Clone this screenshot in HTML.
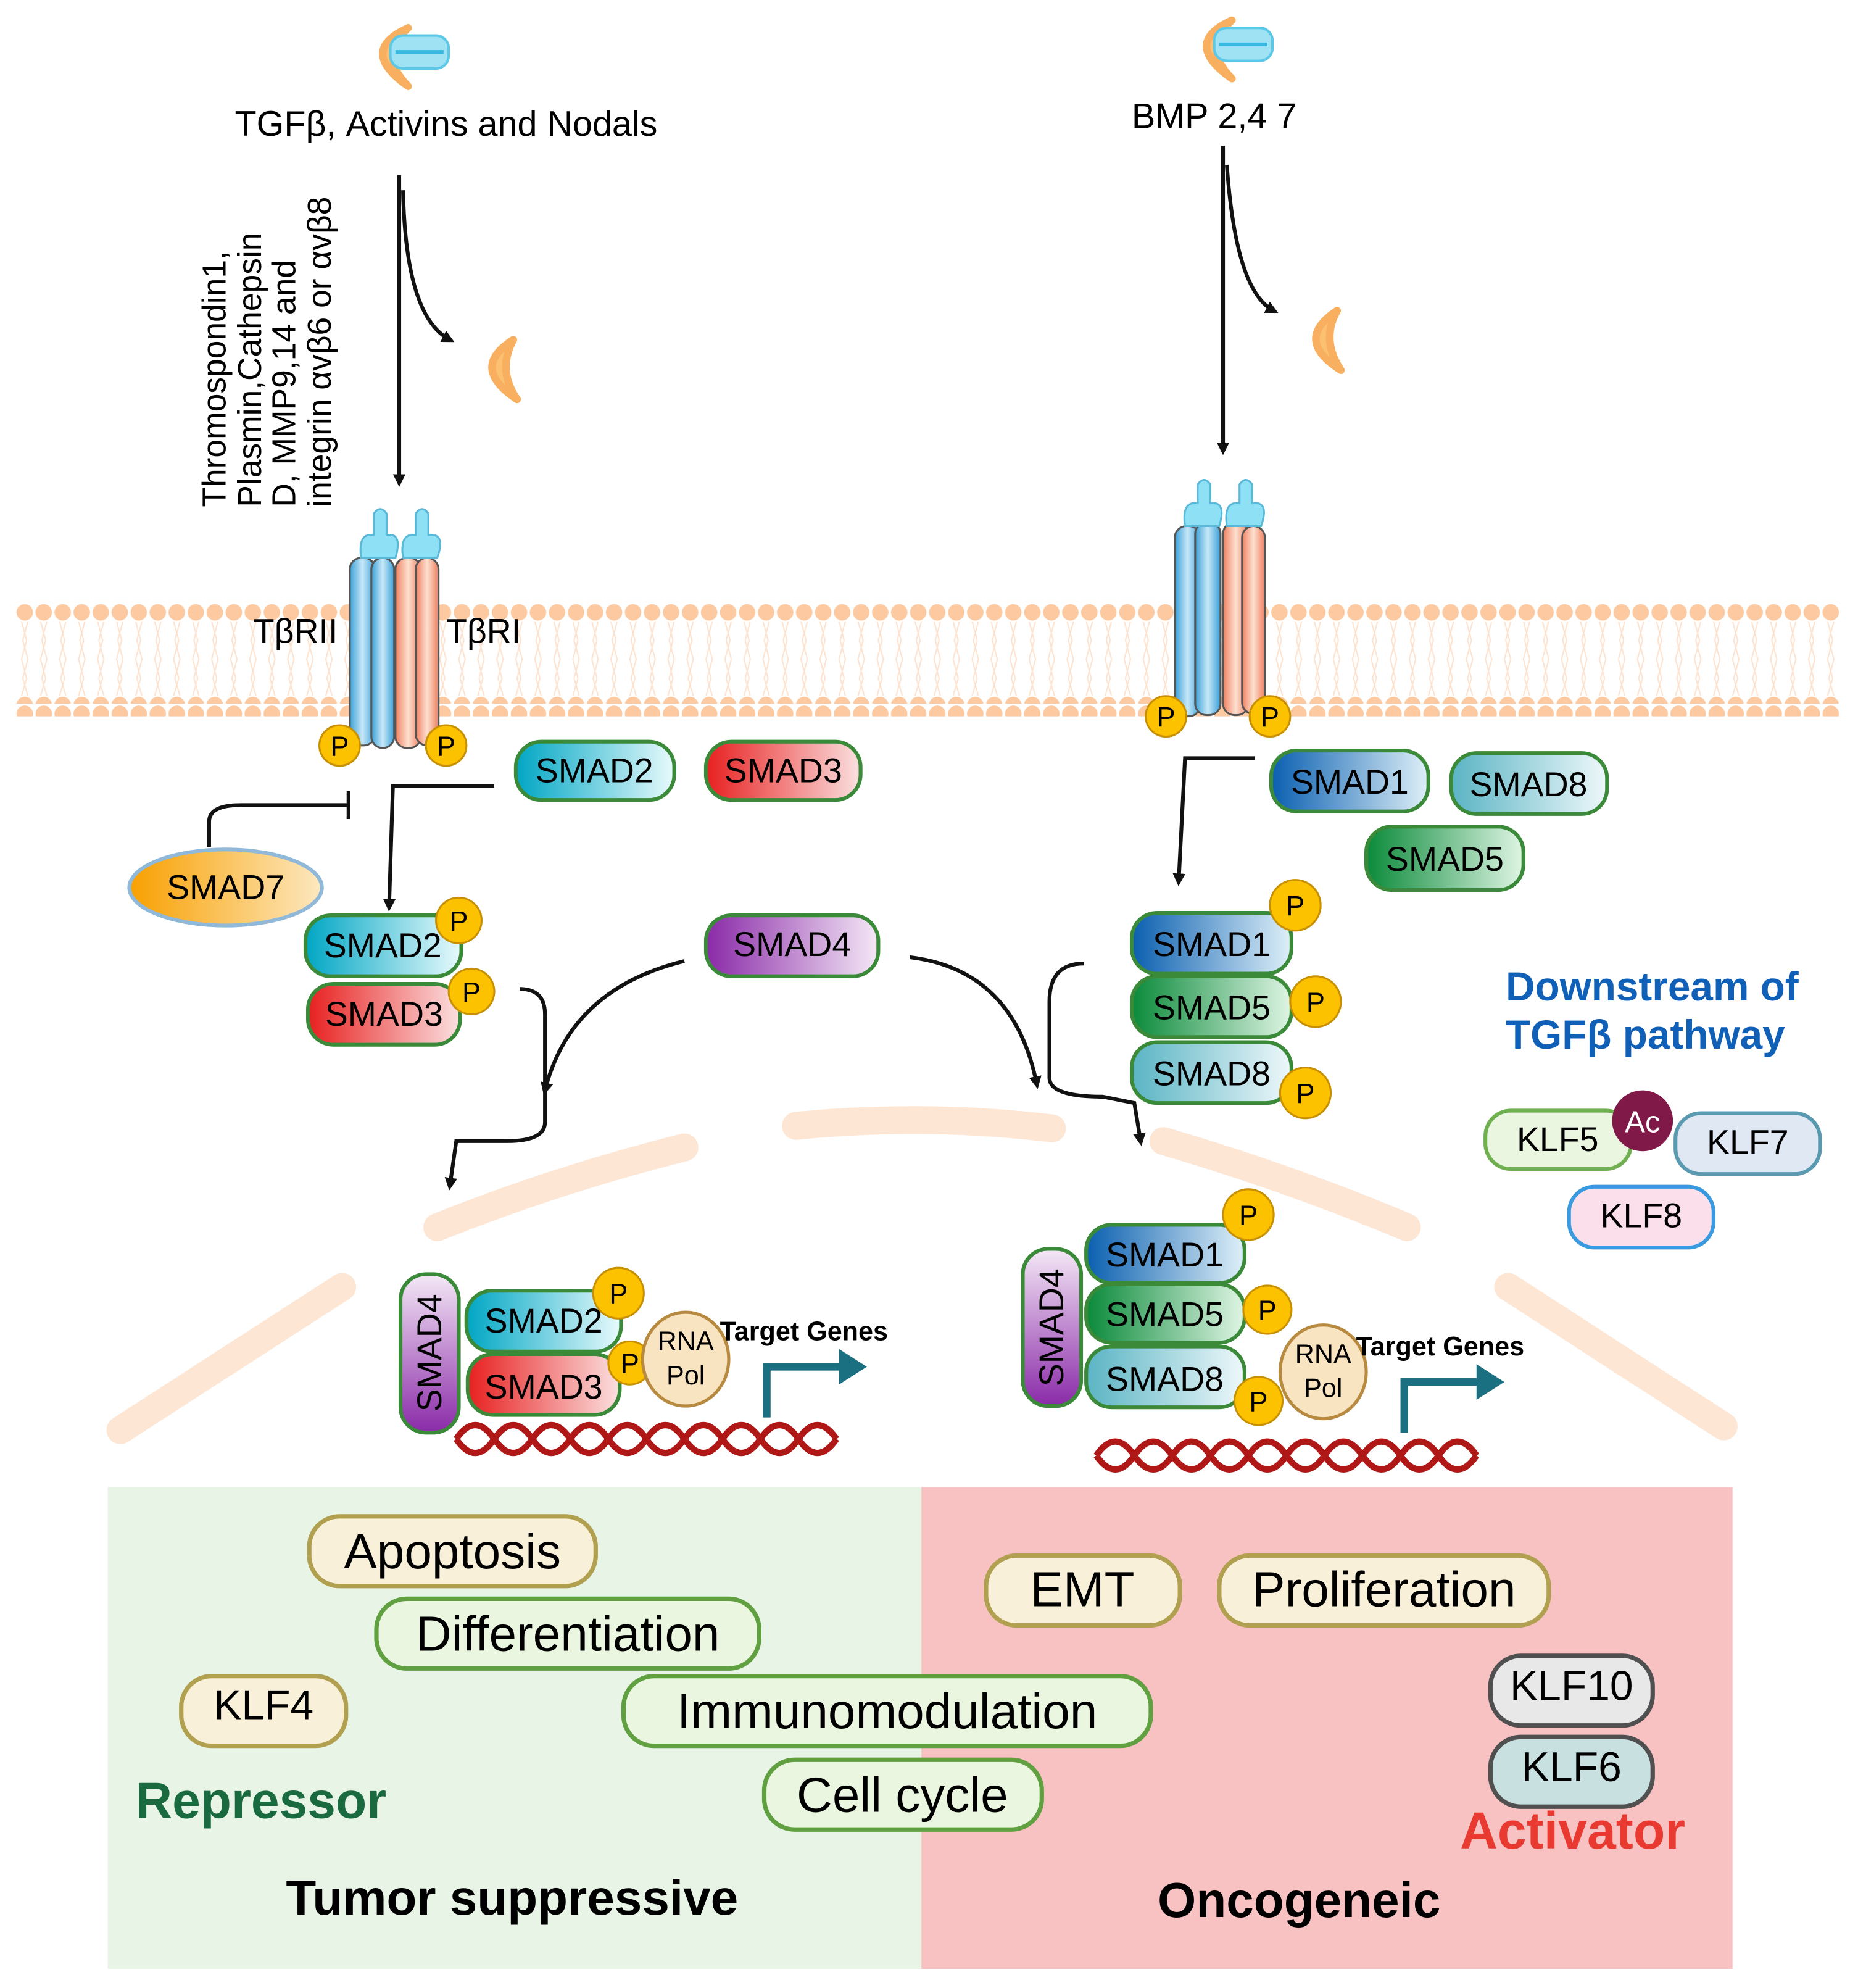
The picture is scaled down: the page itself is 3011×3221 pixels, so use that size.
<!DOCTYPE html>
<html><head><meta charset="utf-8"><style>html,body{margin:0;padding:0;background:#fff}svg{display:block}text{font-family:"Liberation Sans",sans-serif}</style></head><body>
<svg width="3011" height="3221" viewBox="0 0 1466 1568" preserveAspectRatio="none" xmlns="http://www.w3.org/2000/svg">
<defs>
<pattern id="heads" width="15" height="80" patternUnits="userSpaceOnUse" x="12" y="475">
<circle cx="7.5" cy="8" r="6.5" fill="#fcc9a0"/><circle cx="7.5" cy="81" r="6.5" fill="#fcc9a0"/>
<path d="M5 15 L9 30 L5 45 L9 60 L5 74 M10 15 L6 30 L10 45 L6 60 L10 74" stroke="#fde3cf" stroke-width="1" fill="none"/>
</pattern>
<linearGradient id="g2" x1="0" x2="1"><stop offset="0" stop-color="#00a6c4"/><stop offset="1" stop-color="#e8fafc"/></linearGradient>
<linearGradient id="g3" x1="0" x2="1"><stop offset="0" stop-color="#e82020"/><stop offset="1" stop-color="#fbe0e0"/></linearGradient>
<linearGradient id="g1" x1="0" x2="1"><stop offset="0" stop-color="#0a5fb0"/><stop offset="1" stop-color="#dff0f8"/></linearGradient>
<linearGradient id="g5" x1="0" x2="1"><stop offset="0" stop-color="#0a8a3a"/><stop offset="1" stop-color="#dff5e4"/></linearGradient>
<linearGradient id="g8" x1="0" x2="1"><stop offset="0" stop-color="#5ab4c4"/><stop offset="1" stop-color="#eef8fa"/></linearGradient>
<linearGradient id="g4" x1="0" x2="1"><stop offset="0" stop-color="#8a2aa8"/><stop offset="1" stop-color="#f4e8f6"/></linearGradient>
<linearGradient id="g4v" x1="0" y1="1" x2="0" y2="0"><stop offset="0" stop-color="#8a2aa8"/><stop offset="1" stop-color="#f4e8f6"/></linearGradient>
<linearGradient id="g7" x1="0" x2="1"><stop offset="0" stop-color="#f8a000"/><stop offset="1" stop-color="#fde8c0"/></linearGradient>
<linearGradient id="rb" x1="0" x2="1"><stop offset="0" stop-color="#3aa0d8"/><stop offset=".5" stop-color="#c8e8f8"/><stop offset="1" stop-color="#3aa0d8"/></linearGradient>
<linearGradient id="ro" x1="0" x2="1"><stop offset="0" stop-color="#f08060"/><stop offset=".5" stop-color="#fde0d0"/><stop offset="1" stop-color="#f08060"/></linearGradient>
<marker id="ar" markerWidth="10" markerHeight="10" refX="6" refY="5" orient="auto" markerUnits="userSpaceOnUse"><path d="M0 0 L10 5 L0 10 Z" fill="#111"/></marker>
</defs>
<rect x="12" y="475" width="1440" height="90" fill="url(#heads)"/>
<rect x="85" y="1173" width="642" height="380" fill="#e8f4e6"/>
<rect x="727" y="1173" width="640" height="380" fill="#f8c2c2"/>
<g stroke="#fde6d4" stroke-width="22" stroke-linecap="round" fill="none">
<path d="M95 1128 L270 1015"/><path d="M345 968 Q440 930 540 905"/><path d="M628 888 Q730 878 830 890"/><path d="M918 900 Q1020 930 1110 968"/><path d="M1190 1015 L1360 1125"/>
</g>
<g>
<path d="M322 22 Q282 40 322 68 Q298 44 322 22Z" fill="#fbc070" stroke="#f8b060" stroke-width="6" stroke-linejoin="round"/>
<rect x="308" y="28" width="46" height="26" rx="10" fill="#9ee2f4" stroke="#5cc8e8" stroke-width="2"/><line x1="312" y1="41" x2="350" y2="41" stroke="#3ab8e0" stroke-width="3"/>
<path d="M972 16 Q932 34 972 62 Q948 38 972 16Z" fill="#fbc070" stroke="#f8b060" stroke-width="6" stroke-linejoin="round"/>
<rect x="958" y="22" width="46" height="26" rx="10" fill="#9ee2f4" stroke="#5cc8e8" stroke-width="2"/><line x1="962" y1="35" x2="1000" y2="35" stroke="#3ab8e0" stroke-width="3"/>
<path d="M405 268 Q370 290 408 315 Q392 292 405 268Z" fill="#fbc070" stroke="#f8b060" stroke-width="6" stroke-linejoin="round"/>
<path d="M1055 245 Q1020 268 1058 292 Q1042 268 1055 245Z" fill="#fbc070" stroke="#f8b060" stroke-width="6" stroke-linejoin="round"/>
</g>
<text x="352" y="107" font-size="28" text-anchor="middle">TGFβ, Activins and Nodals</text>
<text x="958" y="101" font-size="28" text-anchor="middle">BMP 2,4 7</text>
<g font-size="26" transform="translate(178 400) rotate(-90)"><text x="0" y="0">Thromospondin1,</text><text x="0" y="28">Plasmin,Cathepsin</text><text x="0" y="55">D, MMP9,14 and</text><text x="0" y="83">integrin αvβ6 or αvβ8</text></g>
<g stroke="#111" stroke-width="3" fill="none">
<line x1="315" y1="138" x2="315" y2="380" marker-end="url(#ar)"/>
<path d="M318 150 Q320 250 355 268" marker-end="url(#ar)"/>
<line x1="965" y1="115" x2="965" y2="355" marker-end="url(#ar)"/>
<path d="M968 130 Q975 230 1005 245" marker-end="url(#ar)"/>
<path d="M390 620 L310 620 L307 715" marker-end="url(#ar)"/>
<path d="M165 668 L165 648 Q165 635 190 635 L275 635"/><line x1="275" y1="624" x2="275" y2="646"/>
<path d="M990 598 L935 598 L930 695" marker-end="url(#ar)"/>
<path d="M540 758 Q450 780 430 860" marker-end="url(#ar)"/>
<path d="M410 780 Q430 780 430 800 L430 885 Q430 900 400 900 L360 900 L355 935" marker-end="url(#ar)"/>
<path d="M718 755 Q800 765 818 855" marker-end="url(#ar)"/>
<path d="M855 760 Q828 760 828 790 L828 850 Q828 865 870 865 L895 870 L900 900" marker-end="url(#ar)"/>
</g>
<g stroke="#555" stroke-width="1.5">
<rect x="276" y="440" width="20" height="148" rx="9" fill="url(#rb)"/><rect x="293" y="440" width="18" height="150" rx="9" fill="url(#rb)"/>
<rect x="312" y="440" width="20" height="150" rx="9" fill="url(#ro)"/><rect x="328" y="440" width="18" height="148" rx="9" fill="url(#ro)"/>
<rect x="927" y="415" width="20" height="150" rx="9" fill="url(#rb)"/><rect x="943" y="412" width="20" height="152" rx="9" fill="url(#rb)"/>
<rect x="965" y="412" width="20" height="152" rx="9" fill="url(#ro)"/><rect x="980" y="415" width="18" height="148" rx="9" fill="url(#ro)"/>
</g>
<g fill="#8ee0f4" stroke="#5ab8d8" stroke-width="1.5">
<path d="M285 440 Q282 420 295 422 L295 405 Q300 398 305 405 L305 422 Q318 420 312 440Z"/>
<path d="M318 440 Q315 420 328 422 L328 405 Q333 398 338 405 L338 422 Q352 420 345 440Z"/>
<path d="M935 415 Q932 395 945 397 L945 382 Q950 375 955 382 L955 397 Q968 395 962 415Z"/>
<path d="M968 415 Q965 395 978 397 L978 382 Q983 375 988 382 L988 397 Q1002 395 995 415Z"/>
</g>
<text x="200" y="507" font-size="27">TβRII</text><text x="352" y="507" font-size="27">TβRI</text>
<g stroke="#3a8a3a" stroke-width="3" >
<rect x="407" y="585" width="125" height="46" rx="20" fill="url(#g2)"/>
<rect x="557" y="585" width="122" height="46" rx="20" fill="url(#g3)"/>
<ellipse cx="178" cy="700" rx="76" ry="30" fill="url(#g7)" stroke="#90b8d8"/>
<rect x="241" y="722" width="123" height="48" rx="20" fill="url(#g2)"/>
<rect x="243" y="776" width="120" height="48" rx="20" fill="url(#g3)"/>
<rect x="557" y="722" width="136" height="48" rx="20" fill="url(#g4)"/>
<rect x="1003" y="592" width="124" height="48" rx="20" fill="url(#g1)"/>
<rect x="1145" y="594" width="123" height="48" rx="20" fill="url(#g8)"/>
<rect x="1078" y="652" width="124" height="50" rx="20" fill="url(#g5)"/>
<rect x="893" y="720" width="126" height="48" rx="20" fill="url(#g1)"/>
<rect x="893" y="770" width="126" height="48" rx="20" fill="url(#g5)"/>
<rect x="893" y="822" width="126" height="48" rx="20" fill="url(#g8)"/>
<rect x="316" y="1005" width="46" height="125" rx="20" fill="url(#g4v)"/>
<rect x="368" y="1018" width="122" height="48" rx="20" fill="url(#g2)"/>
<rect x="369" y="1068" width="120" height="48" rx="20" fill="url(#g3)"/>
<rect x="807" y="985" width="46" height="124" rx="20" fill="url(#g4v)"/>
<rect x="857" y="966" width="125" height="46" rx="20" fill="url(#g1)"/>
<rect x="857" y="1013" width="125" height="46" rx="20" fill="url(#g5)"/>
<rect x="857" y="1062" width="125" height="48" rx="20" fill="url(#g8)"/>
</g>
<g font-size="22" text-anchor="middle">
<g fill="#fcc200" stroke="#c89000" stroke-width="1.5">
<circle cx="268" cy="588" r="16"/><circle cx="352" cy="588" r="16"/><circle cx="920" cy="565" r="16"/><circle cx="1002" cy="565" r="16"/>
<circle cx="362" cy="726" r="18"/><circle cx="372" cy="782" r="18"/><circle cx="1022" cy="714" r="20"/><circle cx="1038" cy="790" r="20"/><circle cx="1030" cy="862" r="20"/>
<circle cx="488" cy="1020" r="20"/><circle cx="497" cy="1075" r="17"/><circle cx="985" cy="958" r="20"/><circle cx="1000" cy="1033" r="19"/><circle cx="993" cy="1105" r="19"/>
</g>
<text x="268" y="596">P</text><text x="352" y="596">P</text><text x="920" y="573">P</text><text x="1002" y="573">P</text>
<text x="362" y="734">P</text><text x="372" y="790">P</text><text x="1022" y="722">P</text><text x="1038" y="798">P</text><text x="1030" y="870">P</text>
<text x="488" y="1028">P</text><text x="497" y="1083">P</text><text x="985" y="966">P</text><text x="1000" y="1041">P</text><text x="993" y="1113">P</text>
</g>
<g font-size="27" text-anchor="middle">
<text x="469" y="617">SMAD2</text><text x="618" y="617">SMAD3</text><text x="178" y="709">SMAD7</text>
<text x="302" y="755">SMAD2</text><text x="303" y="809">SMAD3</text><text x="625" y="754">SMAD4</text>
<text x="1065" y="626">SMAD1</text><text x="1206" y="628">SMAD8</text><text x="1140" y="687">SMAD5</text>
<text x="956" y="754">SMAD1</text><text x="956" y="804">SMAD5</text><text x="956" y="856">SMAD8</text>
<text x="429" y="1051">SMAD2</text><text x="429" y="1103">SMAD3</text>
<text x="919" y="999">SMAD1</text><text x="919" y="1046">SMAD5</text><text x="919" y="1097">SMAD8</text>
<text transform="translate(348 1067) rotate(-90)">SMAD4</text><text transform="translate(839 1047) rotate(-90)">SMAD4</text>
</g>
<g fill="#f8e4c0" stroke="#b88a40" stroke-width="2.5"><ellipse cx="541" cy="1072" rx="34" ry="37"/><ellipse cx="1044" cy="1082" rx="34" ry="37"/></g>
<g font-size="21" text-anchor="middle"><text x="541" y="1065">RNA</text><text x="541" y="1092">Pol</text><text x="1044" y="1075">RNA</text><text x="1044" y="1102">Pol</text></g>
<g font-size="21" font-weight="bold"><text x="568" y="1057">Target Genes</text><text x="1070" y="1069">Target Genes</text></g>
<g fill="none" stroke="#1a7080" stroke-width="6"><path d="M605 1118 L605 1078 L665 1078"/><path d="M1108 1130 L1108 1090 L1168 1090"/></g>
<g fill="#1a7080"><path d="M662 1064 L684 1078 L662 1092Z"/><path d="M1165 1076 L1187 1090 L1165 1104Z"/></g>
<g fill="none" stroke="#b01818" stroke-width="5">
<path d="M360 1135 q15 -22 30 0 t30 0 t30 0 t30 0 t30 0 t30 0 t30 0 t30 0 t30 0 t30 0"/>
<path d="M360 1135 q15 22 30 0 t30 0 t30 0 t30 0 t30 0 t30 0 t30 0 t30 0 t30 0 t30 0"/>
<path d="M865 1148 q15 -22 30 0 t30 0 t30 0 t30 0 t30 0 t30 0 t30 0 t30 0 t30 0 t30 0"/>
<path d="M865 1148 q15 22 30 0 t30 0 t30 0 t30 0 t30 0 t30 0 t30 0 t30 0 t30 0 t30 0"/>
</g>
<g stroke-width="3">
<rect x="1172" y="876" width="115" height="46" rx="20" fill="#eaf6e0" stroke="#70b050"/>
<rect x="1322" y="878" width="114" height="48" rx="20" fill="#e0e8f4" stroke="#5a9ab0"/>
<rect x="1238" y="936" width="114" height="48" rx="20" fill="#fbe0ec" stroke="#3a9ae0"/>
</g>
<circle cx="1296" cy="884" r="24" fill="#801848"/><text x="1296" y="893" fill="#fff" font-size="24" text-anchor="middle">Ac</text>
<g font-size="27" text-anchor="middle"><text x="1229" y="908">KLF5</text><text x="1379" y="910">KLF7</text><text x="1295" y="968">KLF8</text></g>
<g font-size="32" font-weight="bold" fill="#1060b8"><text x="1188" y="789">Downstream of</text><text x="1188" y="827">TGFβ pathway</text></g>
<g stroke-width="3.5">
<rect x="244" y="1196" width="226" height="55" rx="24" fill="#f8f0d8" stroke="#b0a050"/>
<rect x="297" y="1261" width="302" height="55" rx="24" fill="#eaf6e0" stroke="#60a040"/>
<rect x="143" y="1322" width="130" height="55" rx="24" fill="#f8f0d8" stroke="#b0a050"/>
<rect x="492" y="1322" width="416" height="55" rx="24" fill="#eaf6e0" stroke="#60a040"/>
<rect x="603" y="1388" width="219" height="55" rx="24" fill="#eaf6e0" stroke="#60a040"/>
<rect x="778" y="1227" width="153" height="55" rx="24" fill="#f8f0d8" stroke="#b0a050"/>
<rect x="962" y="1227" width="260" height="55" rx="24" fill="#f8f0d8" stroke="#b0a050"/>
<rect x="1176" y="1306" width="128" height="55" rx="24" fill="#e8e8e8" stroke="#505050"/>
<rect x="1176" y="1370" width="128" height="55" rx="24" fill="#c8e0e0" stroke="#505050"/>
</g>
<g font-size="39" text-anchor="middle">
<text x="357" y="1237">Apoptosis</text><text x="448" y="1302">Differentiation</text><text x="208" y="1356" font-size="33">KLF4</text>
<text x="700" y="1363">Immunomodulation</text><text x="712" y="1429">Cell cycle</text>
<text x="854" y="1267">EMT</text><text x="1092" y="1267">Proliferation</text>
<text x="1240" y="1341" font-size="33">KLF10</text><text x="1240" y="1405" font-size="33">KLF6</text>
</g>
<g font-weight="bold">
<text x="107" y="1434" fill="#1a6a40" font-size="40">Repressor</text>
<text x="1152" y="1458" fill="#e83a30" font-size="41">Activator</text>
<text x="404" y="1510" text-anchor="middle" fill="#000" font-size="39">Tumor suppressive</text>
<text x="1025" y="1512" text-anchor="middle" fill="#000" font-size="39">Oncogeneic</text>
</g>
</svg>
</body></html>
